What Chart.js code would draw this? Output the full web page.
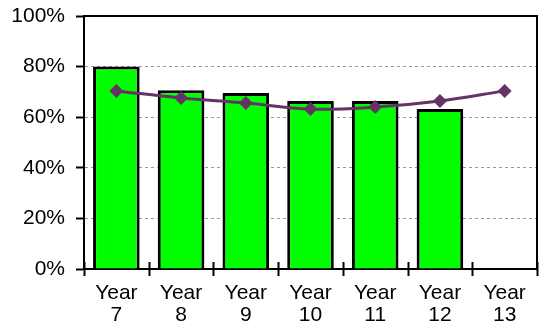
<!DOCTYPE html>
<html>
<head>
<meta charset="utf-8">
<script src="https://cdn.jsdelivr.net/npm/chart.js@4/dist/chart.umd.min.js"></script>
<style>
  html, body { margin: 0; padding: 0; background: #fff; }
  #wrap { width: 544px; height: 322px; }
</style>
</head>
<body>
<div id="wrap"><canvas id="yearChart"></canvas></div>
<script>
// categories and values
const years = [['Year', '7'], ['Year', '8'], ['Year', '9'], ['Year', '10'], ['Year', '11'], ['Year', '12'], ['Year', '13']]
const barValues = [80, 70.7, 69.6, 66.4, 66.4, 63.2, null]
const lineValues = [70.4, 67.6, 65.6, 63.2, 64, 66.4, 70.4]
const yTicks = [0, 20, 40, 60, 80, 100]

// top/right frame plus the crossing tick marks on the category axis
const framePlugin = {
  id: 'frame',
  afterDraw(chart) {
    const { ctx, chartArea: a, scales } = chart
    const x = scales.x
    ctx.save()
    ctx.strokeStyle = '#000'
    ctx.lineWidth = 2
    ctx.beginPath()
    ctx.moveTo(a.left, a.top)
    ctx.lineTo(a.right, a.top)
    ctx.lineTo(a.right, a.bottom)
    ctx.stroke()
    const step = x.getPixelForValue(1) - x.getPixelForValue(0)
    ctx.beginPath()
    for (let i = 0; i <= years.length; i++) {
      const px = Math.round(x.getPixelForValue(i) - step / 2) + 0.5
      ctx.moveTo(px, a.bottom - 7)
      ctx.lineTo(px, a.bottom + 7)
    }
    ctx.stroke()
    ctx.restore()
  }
}

const font = { family: 'Liberation Sans, Arial, sans-serif', size: 21, lineHeight: 1.05 }

const yearCtx = document.getElementById('yearChart')
window.yearChart = new Chart(yearCtx, {
  data: {
    labels: years,
    datasets: [
      {
        type: 'line',
        data: lineValues,
        borderColor: '#663366',
        backgroundColor: '#663366',
        borderWidth: 3,
        tension: 0.4,
        pointStyle: 'rectRot',
        pointRadius: 7,
        pointBorderWidth: 0,
        order: 0
      },
      {
        type: 'bar',
        data: barValues,
        backgroundColor: '#00ff00',
        borderColor: '#000000',
        borderWidth: 3,
        barPercentage: 0.72,
        categoryPercentage: 1,
        order: 1
      }
    ]
  },
  options: {
    responsive: true,
    maintainAspectRatio: false,
    animation: false,
    layout: { padding: { top: 16, right: 6, left: 0, bottom: 0 } },
    plugins: { legend: { display: false }, tooltip: { enabled: false } },
    scales: {
      x: {
        offset: true,
        grid: { display: false },
        border: { display: true, color: '#000', width: 2 },
        ticks: { color: '#000', font: font, padding: 5, maxRotation: 0 },
        afterFit(scale) { scale.height = 53 }
      },
      y: {
        min: 0,
        max: 100,
        afterBuildTicks(scale) { scale.ticks = yTicks.map(v => ({ value: v })) },
        grid: {
          color: '#999999',
          lineWidth: 1,
          tickLength: 8,
          tickColor: '#000',
          tickWidth: 2,
          tickBorderDash: []
        },
        border: { display: true, color: '#000', width: 2, dash: [3, 3] },
        ticks: { color: '#000', font: font, padding: 11, callback: v => v + '%' },
        afterFit(scale) {
          scale.width = 84
          scale.paddingTop = 0
          scale.paddingBottom = 0
        }
      }
    }
  },
  plugins: [framePlugin]
})
</script>
</body>
</html>
